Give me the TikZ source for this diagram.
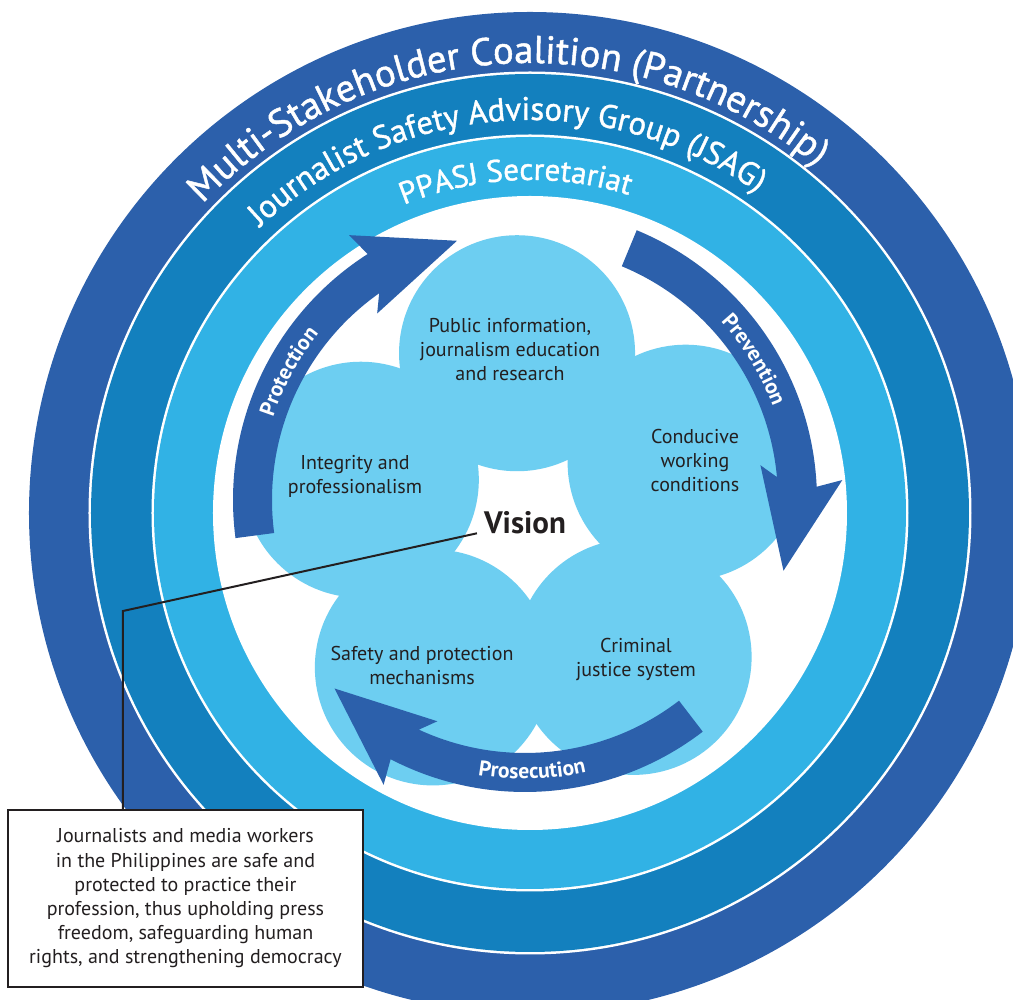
\documentclass[tikz,border=0pt]{standalone}
\usepackage{fontspec}
\setmainfont{PT Sans}
\newfontfamily\ringfont[FakeBold=1.2]{PT Sans}
\usetikzlibrary{decorations.text}
\definecolor{ringdark}{HTML}{2C60AB}
\definecolor{ringmid}{HTML}{1380BE}
\definecolor{ringlight}{HTML}{31B2E5}
\definecolor{petal}{HTML}{6DCEF1}
\definecolor{inkgray}{HTML}{231F20}
\begin{document}
\begin{tikzpicture}[x=0.5pt,y=0.5pt,
  petaltext/.style={text=inkgray,align=center,font=\fontsize{10}{12}\selectfont},
  ringtext/.style={decorate,decoration={text along path,text align=center}},
]
\useasboundingbox (-530,-487) rectangle (483,513);
\clip (-530,-487) rectangle (483,513);

% rings
\fill[ringdark] (0,0) circle [radius=501];
\fill[white] (0,0) circle [radius=441.5];
\fill[ringmid] (0,0) circle [radius=439];
\fill[white] (0,0) circle [radius=378.5];
\fill[ringlight] (0,0) circle [radius=376];
\fill[white] (0,0) circle [radius=317];

\path[ringtext,decoration={text={|\color{white}\ringfont\fontsize{19.3}{22}\selectfont|Multi-Stakeholder Coalition (Partnership)}}]
  (153.5:450) arc [start angle=153.5,end angle=33.5,radius=450];
\path[ringtext,decoration={text={|\color{white}\ringfont\fontsize{16.3}{19}\selectfont|Journalist Safety Advisory Group (JSAG)}}]
  (154:393) arc [start angle=154,end angle=34,radius=393];
\path[ringtext,decoration={text={|\color{white}\ringfont\fontsize{15.5}{18}\selectfont|PPASJ Secretariat}}]
  (152.5:333) arc [start angle=152.5,end angle=32.5,radius=333];

% petals
\foreach \a in {93,165,237,309,21}
  \fill[petal] (-4,-11) ++(\a:171) circle [radius=118];

% arrows
\foreach \r in {0,-120,-240}
  \fill[ringdark,shift={(-5,13)},rotate=\r]
    (187.5:292) arc [start angle=187.5,end angle=122.6,radius=292]
    -- (123.6:318) -- (104.7:268) -- (128.4:238) -- (125.2:253)
    arc [start angle=125.2,end angle=187.5,radius=253] -- cycle;

\path[ringtext,shift={(-5,13)},decoration={text={|\color{white}\bfseries\fontsize{10.8}{13}\selectfont|Protection}}]
  (181.5:265) arc [start angle=181.5,end angle=121.5,radius=265];
\path[ringtext,shift={(-5,13)},decoration={text={|\color{white}\bfseries\fontsize{10.8}{13}\selectfont|Prevention}}]
  (61.5:265) arc [start angle=61.5,end angle=1.5,radius=265];
\path[ringtext,shift={(-5,13)},decoration={text={|\color{white}\bfseries\fontsize{10.8}{13}\selectfont|Prosecution}}]
  (-118.5:279) arc [start angle=-118.5,end angle=-58.5,radius=279];

% petal labels
\node[petaltext] (public) at (-20,163) {Public information,\\journalism education\\and research};
\node[petaltext] (integrity) at (-175,37) {Integrity and\\professionalism};
\node[petaltext] (conducive) at (165,52) {Conducive\\working\\conditions};
\node[petaltext] (criminal) at (106,-147) {Criminal\\justice system};
\node[petaltext] (safety) at (-108,-153) {Safety and protection\\mechanisms};

% vision
\node[text=inkgray,font=\bfseries\fontsize{15.5}{18}\selectfont] (vision) at (-5,-9.5) {Vision};
\node[draw=inkgray,line width=1pt,fill=white,text=inkgray,align=center,
  minimum width=177.5pt,minimum height=88.5pt,font=\fontsize{10}{12.1}\selectfont]
  (visionbox) at (-344.5,-385.5)
  {Journalists and media workers\\in the Philippines are safe and\\protected to practice their\\profession, thus upholding press\\freedom, safeguarding human\\rights, and strengthening democracy};
\coordinate (bend) at (-407,-98);
\draw[inkgray,line width=1pt] (vision.base west) -- (bend) -- (bend |- visionbox.north);
\end{tikzpicture}
\end{document}
